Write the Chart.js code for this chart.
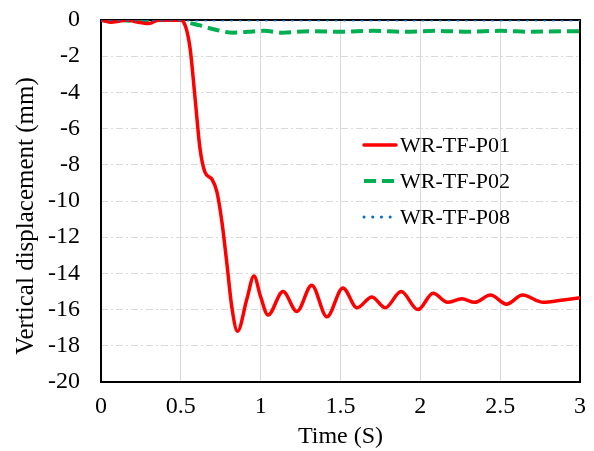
<!DOCTYPE html>
<html>
<head>
<meta charset="utf-8">
<script src="https://cdn.jsdelivr.net/npm/chart.js@4"></script>
<style>
  html, body { margin: 0; padding: 0; background: #fff; }
  #wrap { width: 594px; height: 451px; }
</style>
</head>
<body>
<div id="wrap"><canvas id="chart" width="594" height="451"></canvas></div>
<script>
// time (s) and vertical displacement (mm)
const p01Time = [0, 0.06, 0.12, 0.17, 0.22, 0.3, 0.36, 0.45, 0.5, 0.513, 0.557, 0.589, 0.62, 0.651, 0.695, 0.726, 0.758, 0.789, 0.82, 0.855, 0.914, 0.958, 1.0, 1.046, 1.14, 1.227, 1.32, 1.415, 1.515, 1.603, 1.697, 1.78, 1.88, 1.985, 2.08, 2.17, 2.26, 2.34, 2.44, 2.54, 2.64, 2.77, 2.87, 3.0];
const p01Disp = [0, -0.12, -0.05, 0, -0.1, -0.2, 0, -0.02, 0, -0.05, -1.5, -4.3, -7.1, -8.4, -8.8, -9.5, -11.2, -13.5, -15.9, -17.2, -15.4, -14.15, -15.3, -16.3, -15.0, -16.1, -14.65, -16.4, -14.8, -15.9, -15.3, -15.9, -15.0, -16.0, -15.1, -15.6, -15.4, -15.6, -15.2, -15.7, -15.2, -15.6, -15.5, -15.35];

const p02Time = [0, 0.06, 0.12, 0.2, 0.3, 0.4, 0.5, 0.55, 0.62, 0.7, 0.83, 0.92, 1.02, 1.14, 1.3, 1.5, 1.7, 1.9, 2.1, 2.3, 2.5, 2.7, 2.9, 3.0];
const p02Disp = [0, -0.05, 0, -0.05, -0.02, 0, 0, -0.15, -0.3, -0.5, -0.7, -0.65, -0.6, -0.7, -0.62, -0.65, -0.6, -0.65, -0.6, -0.65, -0.6, -0.65, -0.62, -0.62];

const p08Time = [0, 0.5, 1.0, 1.5, 2.0, 2.5, 3.0];
const p08Disp = [0, 0, 0, 0, 0, 0, 0];

const xTicks = [0, 0.5, 1, 1.5, 2, 2.5, 3];
const yTicks = [0, -2, -4, -6, -8, -10, -12, -14, -16, -18, -20];
const yTitle = "Vertical displacement (mm)";

const toPoints = (t, v) => t.map((x, i) => ({ x: x, y: v[i] }));
const serif = "'Liberation Serif', 'Times New Roman', serif";

const series = [
  { label: "WR-TF-P01", data: toPoints(p01Time, p01Disp), color: "#ff0000", width: 3.5, dash: [], cap: "round", order: 1 },
  { label: "WR-TF-P02", data: toPoints(p02Time, p02Disp), color: "#00b050", width: 4, dash: [12, 6], cap: "butt", order: 2 },
  { label: "WR-TF-P08", data: toPoints(p08Time, p08Disp), color: "#0070c0", width: 3, dash: [0.1, 8.6], cap: "round", order: 0 }
];

// black frame round the plot area, under the lines
const framePlugin = {
  id: "frame",
  beforeDatasetsDraw(chart) {
    const { ctx, chartArea: a } = chart;
    ctx.save();
    ctx.strokeStyle = "#000";
    ctx.lineWidth = 2;
    ctx.strokeRect(a.left, a.top, a.right - a.left, a.bottom - a.top);
    ctx.restore();
  }
};

// legend inside the plot + y title (sits a bit below the axis centre)
const legendPlugin = {
  id: "innerLegend",
  afterDraw(chart) {
    const ctx = chart.ctx;
    const rows = [145, 181, 217];
    ctx.save();
    series.forEach((s, i) => {
      const y = rows[i];
      ctx.beginPath();
      ctx.strokeStyle = s.color;
      ctx.lineWidth = s.width;
      ctx.lineCap = s.cap;
      ctx.setLineDash(s.dash);
      ctx.moveTo(364, y);
      ctx.lineTo(396, y);
      ctx.stroke();
      ctx.setLineDash([]);
      ctx.fillStyle = "#000";
      ctx.font = "22px " + serif;
      ctx.textBaseline = "middle";
      ctx.textAlign = "left";
      ctx.fillText(s.label, 400, y + 1);
    });

    ctx.translate(26, 216);
    ctx.rotate(-Math.PI / 2);
    ctx.font = "25px " + serif;
    ctx.textAlign = "center";
    ctx.textBaseline = "middle";
    ctx.fillStyle = "#000";
    ctx.fillText(yTitle, 0, 0);
    ctx.restore();
  }
};

new Chart(document.getElementById("chart"), {
  type: "line",
  data: {
    datasets: series.map(s => ({
      label: s.label,
      data: s.data,
      borderColor: s.color,
      borderWidth: s.width,
      borderDash: s.dash,
      borderCapStyle: s.cap,
      pointRadius: 0,
      fill: false,
      cubicInterpolationMode: "monotone",
      order: s.order
    }))
  },
  options: {
    responsive: false,
    animation: false,
    layout: { padding: { top: 20, right: 14, left: 0, bottom: 0 } },
    plugins: { legend: { display: false }, tooltip: { enabled: false } },
    scales: {
      x: {
        type: "linear",
        min: 0, max: 3,
        afterBuildTicks: s => { s.ticks = xTicks.map(v => ({ value: v })); },
        afterFit: s => { s.height = 69; s.paddingLeft = 0; s.paddingRight = 0; },
        grid: { color: "#d9d9d9", lineWidth: 1, drawTicks: false },
        border: { display: false },
        ticks: { color: "#000", font: { family: serif, size: 24 }, padding: 10, maxRotation: 0, callback: v => String(v) },
        title: { display: true, text: "Time (S)", color: "#000", font: { family: serif, size: 24 }, padding: { top: 0, bottom: 0 } }
      },
      y: {
        type: "linear",
        min: -20, max: 0,
        afterBuildTicks: s => { s.ticks = yTicks.map(v => ({ value: v })); },
        afterFit: s => { s.width = 101; s.paddingTop = 0; s.paddingBottom = 0; },
        grid: { color: "#d9d9d9", lineWidth: 1, drawTicks: false },
        border: { display: false, dash: [7, 3, 2, 3] },
        ticks: { color: "#000", font: { family: serif, size: 24 }, padding: 21, callback: v => String(v) },
        title: { display: false }
      }
    }
  },
  plugins: [framePlugin, legendPlugin]
});
</script>
</body>
</html>
